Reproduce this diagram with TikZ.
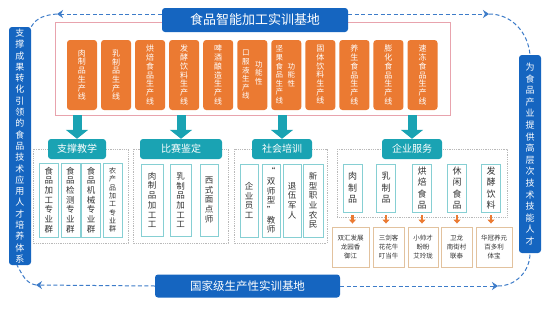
\documentclass[tikz,border=0pt]{standalone}
\usepackage{fontspec}
\setmainfont{Noto Sans CJK SC}
\XeTeXlinebreaklocale "zh"
\XeTeXlinebreakskip = 0pt plus 1pt
\usetikzlibrary{arrows.meta}

\definecolor{barblue}{HTML}{1565C0}
\definecolor{dashblue}{HTML}{3D7CC9}
\definecolor{prodorange}{HTML}{EB7A32}
\definecolor{headteal}{HTML}{1AA3B3}
\definecolor{subteal}{HTML}{86CFD3}
\definecolor{framepink}{HTML}{E8A3AD}
\definecolor{firmtan}{HTML}{E2C29E}
\definecolor{inktext}{HTML}{333333}

\begin{document}
\begin{tikzpicture}[
    x=1pt, y=-1pt,
    % Color and box styles
    bluebox/.style={fill=barblue, rounded corners=3pt, text=white, inner sep=0pt},
    barbox/.style={bluebox, minimum width=22pt, text width=10pt, align=center, font=\fontsize{9}{11.3}\selectfont},
    prodbox/.style={fill=prodorange, rounded corners=3pt, minimum width=30pt, minimum height=70pt, text width=9pt, align=center, text=white, inner sep=0pt, font=\fontsize{8}{8.7}\selectfont},
    prodtxt/.style={text width=8pt, align=center, text=white, inner sep=0pt, font=\fontsize{7.5}{8.6}\selectfont},
    headbox/.style={fill=headteal, rounded corners=3pt, text=white, minimum height=20pt, inner sep=0pt, font=\fontsize{10}{12}\selectfont},
    subbox/.style={draw=subteal, line width=0.9pt, fill=white, text=inktext, text width=9pt, align=center, inner sep=0pt, font=\fontsize{8.5}{9.7}\selectfont},
    firmbox/.style={draw=firmtan, line width=0.9pt, fill=white, text=inktext, minimum height=40pt, align=center, inner sep=0pt, font=\fontsize{6.5}{9}\selectfont},
    groupframe/.style={draw=gray!55, densely dotted, line width=0.8pt},
    blockarrow/.style={draw=headteal, line width=9pt, -{Triangle[length=9pt,width=22pt]}},
    smallarrow/.style={draw=prodorange, line width=2.5pt, -{Triangle[length=4pt,width=7pt]}, shorten <=3pt, shorten >=3pt},
    dashline/.style={draw=dashblue, line width=1pt, dash pattern=on 4pt off 2.5pt},
    dasharrow/.style={dashline, -{Stealth[length=6pt,width=8pt]}}
]

\useasboundingbox[fill=white] (0,0) rectangle (550,309);

% 1. Top training base
\node[draw=framepink, line width=0.9pt, minimum width=395pt, minimum height=93pt] (frame) at (252.5,68.5) {};
\node[bluebox, minimum width=186pt, minimum height=24pt, font=\fontsize{13}{15}\selectfont] (title) at (255,20) {食品智能加工实训基地};

% 2. Production lines
\foreach \i/\txt in {0/肉制品生产线,1/乳制品生产线,2/烘焙食品生产线,3/发酵饮料生产线,4/啤酒酿造生产线,7/固体饮料生产线,8/养生食品生产线,9/膨化食品生产线,10/速冻食品生产线}
    \node[prodbox] (line\i) at ({82+34.05*\i},75) {\txt};
\node[prodbox] (line5) at (252.3,75) {};
\node[prodtxt] (oral) at ([xshift=-6.5pt]line5.center) {口服液生产线};
\node[prodtxt] (oralfn) at ([xshift=6.5pt,yshift=2pt]line5.center) {功能性};
\node[prodbox] (line6) at (286.3,75) {};
\node[prodtxt] (nut) at ([xshift=-7pt]line6.center) {坚果食品生产线};
\node[prodtxt] (nutfn) at ([xshift=5pt,yshift=0pt]line6.center) {功能性};

% 3. Side bars
\node[barbox, minimum height=238pt] (leftbar) at (20,146) {支撑成果转化引领的食品技术应用人才培养体系};
\node[barbox, minimum height=198pt, font=\fontsize{9}{11.6}\selectfont] (rightbar) at (530,154) {为食品产业提供高层次技术技能人才};

% 4. Group frames
\draw[groupframe] (33,149) rectangle (128,243);
\draw[groupframe] (133,149) rectangle (228,243);
\draw[groupframe] (234,149) rectangle (327,243);
\draw[groupframe] (337,149) rectangle (507,217);

% 5. Group headers
\node[headbox, minimum width=58pt] (teach) at (77,149) {支撑教学};
\node[headbox, minimum width=82pt] (contest) at (181,149) {比赛鉴定};
\node[headbox, minimum width=60pt] (train) at (282,149) {社会培训};
\node[headbox, minimum width=60pt] (service) at (412,149) {企业服务};

% 6. Teaching
\node[subbox, minimum width=19pt, minimum height=74pt] (major1) at (49,200) {食品加工专业群};
\node[subbox, minimum width=19pt, minimum height=74pt] (major2) at (70.5,200) {食品检测专业群};
\node[subbox, minimum width=19pt, minimum height=74pt] (major3) at (91,200) {食品机械专业群};
\node[subbox, minimum width=19pt, minimum height=74pt, font=\fontsize{7}{8.3}\selectfont] (major4) at (112.5,200) {农产品加工专业群};

% 7. Contest
\node[subbox, minimum width=22pt, minimum height=72pt] (meatwork) at (152,200) {肉制品加工工};
\node[subbox, minimum width=21pt, minimum height=72pt] (milkwork) at (180.5,200) {乳制品加工工};
\node[subbox, minimum width=18pt, minimum height=72pt] (baker) at (209,200) {西式面点师};

% 8. Social training
\node[subbox, minimum width=18pt, minimum height=73pt] (staff) at (249,200.5) {企业员工};
\node[subbox, minimum width=18pt, minimum height=73pt] (teacher) at (271,200.5) {“\\双\\师\\型\\”\\教\\师};
\node[subbox, minimum width=18pt, minimum height=73pt] (veteran) at (292,200.5) {退伍军人};
\node[subbox, minimum width=20pt, minimum height=73pt] (farmer) at (313,200.5) {新型职业农民};

% 9. Enterprise service
\foreach \n/\x/\txt in {meat/352.5/肉制品,milk/386/乳制品,bake/422/烘焙食品,snack/457/休闲食品,brew/491/发酵饮料}
    \node[subbox, minimum width=19pt, minimum height=48pt, font=\fontsize{9}{11.5}\selectfont] (\n) at (\x,188) {\txt};

\node[firmbox, minimum width=37pt] (firm1) at (350.5,247) {双汇发展\\龙园香\\御江};
\node[firmbox, minimum width=31pt] (firm2) at (388.5,247) {三剑客\\花花牛\\叮当牛};
\node[firmbox, minimum width=30pt] (firm3) at (423,247) {小帅才\\盼盼\\艾玲珑};
\node[firmbox, minimum width=31pt] (firm4) at (456.5,247) {卫龙\\南街村\\联泰};
\node[firmbox, minimum width=36pt] (firm5) at (494,247) {华冠养元\\百多利\\体宝};

% 10. Bottom base
\node[bluebox, minimum width=185pt, minimum height=23pt, font=\fontsize{11.5}{13}\selectfont] (base) at (247.5,286) {国家级生产性实训基地};

% 11. Block arrows down to the groups
\foreach \h in {teach,contest,train,service}
    \draw[blockarrow] (\h.north |- frame.south) -- (\h.north);

% 12. Small arrows to the companies
\draw[smallarrow] (meat.south) -- (meat.south |- firm1.north);
\draw[smallarrow] (milk.south) -- (milk.south |- firm2.north);
\draw[smallarrow] (bake.south) -- (bake.south |- firm3.north);
\draw[smallarrow] (snack.south) -- (snack.south |- firm4.north);
\draw[smallarrow] (brew.south) -- (brew.south |- firm5.north);

% 13. Dashed loop
\coordinate (tlturn) at (57,14);
\coordinate (trturn) at (489,14);
\coordinate (blturn) at (36,285);
\coordinate (brturn) at (498,286);
\draw[dasharrow] ([yshift=6pt]title.west) -- (tlturn);
\draw[dashline] (tlturn) to[out=185,in=60] (leftbar.north east);
\draw[dasharrow] ([yshift=6pt]title.east) -- (trturn);
\draw[dashline] (trturn) to[out=0,in=95] (rightbar.north);
\draw[dasharrow] (base.west) -- (blturn);
\draw[dashline] (blturn) to[out=170,in=-60] ([xshift=-3pt]leftbar.south);
\draw[dasharrow] (base.east) -- (brturn);
\draw[dashline] (brturn) to[out=0,in=-90] (rightbar.south);

\end{tikzpicture}
\end{document}
